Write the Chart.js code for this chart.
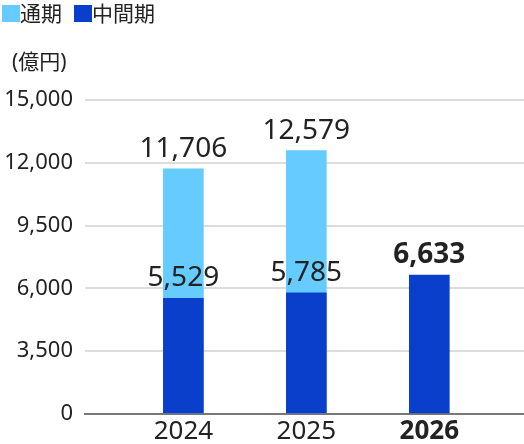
<!DOCTYPE html>
<html>
<head>
<meta charset="utf-8">
<script src="https://cdn.jsdelivr.net/npm/chart.js@4"></script>
<style>
  html, body { margin: 0; padding: 0; background: #fff; }
  #wrap { position: relative; width: 524px; height: 444px; font-family: "Noto Sans", "Noto Sans CJK JP", sans-serif; color: #222; }
  #legend { position: absolute; left: 2px; top: 2px; display: flex; align-items: center; font-size: 21px; line-height: 22px; }
  #legend .item { display: flex; align-items: center; margin-right: 12px; }
  #legend .box { width: 18px; height: 17px; display: inline-block; }
  #unit { position: absolute; left: 12px; top: 49px; font-size: 21px; line-height: 24px; }
  canvas { position: absolute; left: 0; top: 0; }
</style>
</head>
<body>
<div id="wrap">
  <canvas id="chart" width="524" height="444"></canvas>
  <div id="legend"></div>
  <div id="unit">(億円)</div>
</div>
<script>
const FONT = '"Noto Sans", "Noto Sans CJK JP", sans-serif';

/* -------- Data -------- */
const years = ["2024", "2025", "2026"];
const yearPos = [0, 1, 2];
const fullYear = [11706, 12579, null];     // 通期
const firstHalf = [5529, 5785, 6633];      // 中間期
const yTickLabels = ["0", "3,500", "6,000", "9,500", "12,000", "15,000"];

const LIGHT = "#66CCFF";
const DARK = "#0A3FCB";

const toPoints = arr => yearPos.map((x, i) => ({ x, y: arr[i] })).filter(p => p.y != null);

/* -------- Value labels -------- */
const valueLabels = {
  id: "valueLabels",
  afterDatasetsDraw(chart) {
    const ctx = chart.ctx;
    ctx.save();
    ctx.textAlign = "center";
    ctx.textBaseline = "bottom";
    ctx.fillStyle = "#222";
    chart.data.datasets.forEach((ds, di) => {
      const meta = chart.getDatasetMeta(di);
      meta.data.forEach((el, i) => {
        const p = ds.data[i];
        const bold = p.x === 2;
        ctx.font = (bold ? "bold " : "") + "28px " + FONT;
        ctx.fillText(p.y.toLocaleString("en-US"), el.x, el.y - 6);
      });
    });
    ctx.restore();
  }
};

const chart = new Chart(document.getElementById("chart"), {
  type: "bar",
  data: {
    datasets: [
      { label: "通期", data: toPoints(fullYear), backgroundColor: LIGHT, order: 1 },
      { label: "中間期", data: toPoints(firstHalf), backgroundColor: DARK, order: 0 }
    ]
  },
  options: {
    responsive: false,
    animation: false,
    events: [],
    barThickness: 40,
    layout: { padding: { top: 100, right: 0, bottom: 0, left: 0 } },
    plugins: { legend: { display: false }, tooltip: { enabled: false } },
    scales: {
      x: {
        type: "linear",
        stacked: true,
        offset: false,
        min: -0.8,
        max: 2.77,
        afterBuildTicks: s => { s.ticks = yearPos.map(v => ({ value: v })); },
        afterFit: s => { s.height = 30; },
        grid: { display: false, drawTicks: false },
        border: { display: true, color: "#777", width: 2 },
        ticks: {
          padding: 2,
          color: "#222",
          callback: v => years[v],
          font: c => ({ family: FONT, size: 26, weight: c.index === 2 ? "bold" : "normal" })
        }
      },
      y: {
        min: 0,
        max: 15000,
        afterFit: s => { s.width = 85; },
        grid: { color: "#dcdcdc", lineWidth: 2, drawTicks: false },
        border: { display: false },
        ticks: {
          stepSize: 3000,
          padding: 12,
          color: "#222",
          font: { family: FONT, size: 22 },
          callback: (v, i) => yTickLabels[i]
        }
      }
    }
  },
  plugins: [valueLabels]
});

/* -------- Legend (HTML) -------- */
document.getElementById("legend").innerHTML = chart.data.datasets.map(ds =>
  `<span class="item"><span class="box" style="background:${ds.backgroundColor}"></span>${ds.label}</span>`
).join("");
</script>
</body>
</html>
